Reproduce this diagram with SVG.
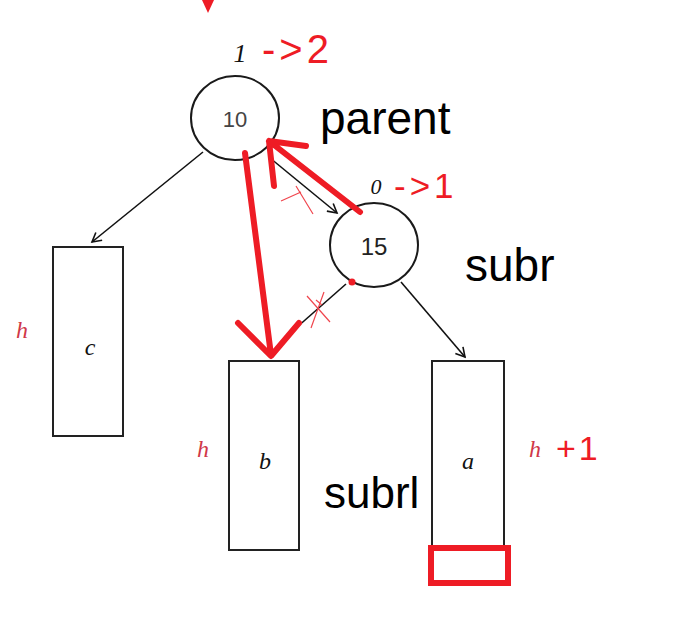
<svg xmlns="http://www.w3.org/2000/svg" width="690" height="623" viewBox="0 0 690 623">
<defs>
<style>
.node{fill:#fff;stroke:#1a1a1a;stroke-width:2}
.box{fill:#fff;stroke:#222;stroke-width:2}
.conn{fill:none;stroke:#111;stroke-width:1.6}
.red{fill:none;stroke:#ee1c25;stroke-width:6;stroke-linecap:round;stroke-linejoin:round}
.thinred{fill:none;stroke:#f0464e;stroke-width:1.2}
.lbl{font-family:"Liberation Sans","Open Sans",sans-serif;fill:#000}
.redt{font-family:"Liberation Sans","Open Sans",sans-serif;fill:#ee1c25}
.it{font-family:"Liberation Serif","DejaVu Serif",serif;font-style:italic;fill:#111}
.h{font-family:"Liberation Serif","DejaVu Serif",serif;font-style:italic;fill:#d03848;font-size:24px}
</style>
<marker id="arr" markerWidth="12" markerHeight="12" refX="10" refY="6" orient="auto" markerUnits="userSpaceOnUse">
<path d="M1,1 L10,6 L1,11" fill="none" stroke="#111" stroke-width="1.6"/>
</marker>
</defs>

<g id="connectors">
<line class="conn" x1="203" y1="152" x2="92" y2="242" marker-end="url(#arr)"/>
<line class="conn" x1="270" y1="158" x2="337" y2="213" marker-end="url(#arr)"/>
<line class="conn" x1="346" y1="284" x2="296" y2="328"/>
<line class="conn" x1="401" y1="282" x2="465" y2="357" marker-end="url(#arr)"/>
</g>

<g id="parent">
<ellipse class="node" cx="235" cy="118" rx="44" ry="42"/>
<text x="235" y="127" text-anchor="middle" font-family="Liberation Sans,sans-serif" font-size="22" fill="#444">10</text>
<text class="it" x="240" y="62" text-anchor="middle" font-size="26">1</text>
<text class="redt" x="262" y="63" font-size="40" letter-spacing="4">-&gt;2</text>
<text class="lbl" x="320" y="134" font-size="46">parent</text>
</g>

<g id="subr">
<ellipse class="node" cx="374" cy="245" rx="44" ry="42"/>
<text x="374" y="255" text-anchor="middle" font-family="Liberation Sans,sans-serif" font-size="24" fill="#222">15</text>
<text class="it" x="376" y="194" text-anchor="middle" font-size="22">0</text>
<text class="redt" x="394" y="198" font-size="35" letter-spacing="4">-&gt;1</text>
<text class="lbl" x="465" y="281" font-size="46">subr</text>
</g>

<g id="c">
<rect class="box" x="53" y="247" width="70" height="189"/>
<text class="it" x="90" y="355" text-anchor="middle" font-size="24">c</text>
<text class="h" x="22" y="338" text-anchor="middle">h</text>
</g>

<g id="b">
<rect class="box" x="229" y="361" width="70" height="189"/>
<text class="it" x="265" y="469" text-anchor="middle" font-size="24">b</text>
<text class="h" x="203" y="457" text-anchor="middle">h</text>
<text class="lbl" x="324" y="508" font-size="44">subrl</text>
</g>

<g id="a">
<rect class="box" x="432" y="361" width="72" height="187"/>
<text class="it" x="468" y="469" text-anchor="middle" font-size="24">a</text>
<text class="h" x="535" y="457" text-anchor="middle">h</text>
<text class="redt" x="556" y="460" font-size="34" letter-spacing="3">+1</text>
<rect x="431" y="548" width="77" height="35" fill="none" stroke="#ee1c25" stroke-width="6"/>
</g>

<g id="annotations">
<polygon points="202,0 214,0 208,13" fill="#ee1c25"/>
<path class="red" d="M245,153 L271,355 M238,323 L271,356 L299,323"/>
<path class="red" d="M360,212 L269,141 M306,146 L269,141 L274,186"/>
<path class="thinred" d="M281,201 L301,192 M296,186 L313,214"/>
<path class="thinred" d="M307,296 L330,322 M311,328 L324,292 M316,300 L322,305"/>
<circle cx="352" cy="282" r="3.5" fill="#ee1c25"/>
</g>
</svg>
